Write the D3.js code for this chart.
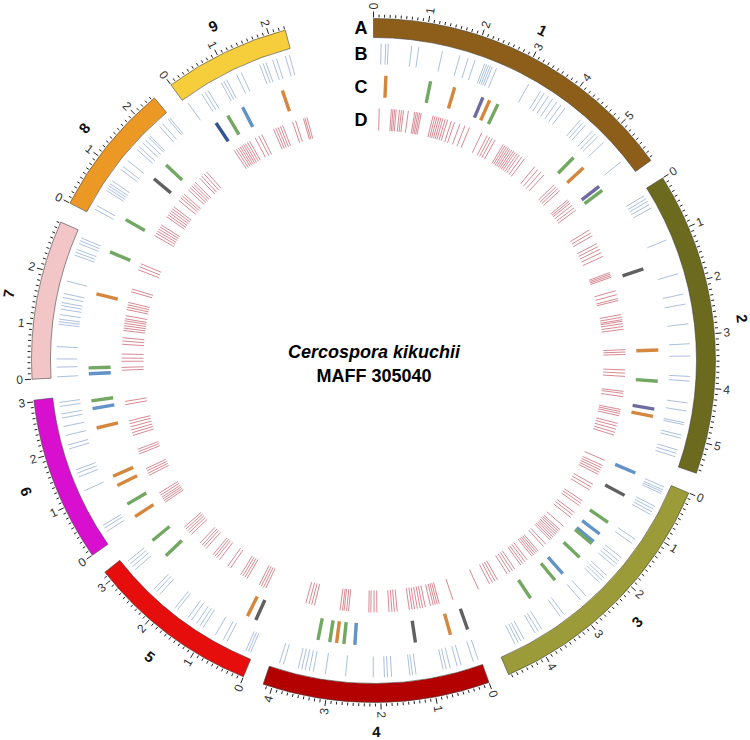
<!DOCTYPE html>
<html><head><meta charset="utf-8">
<script src="https://cdn.jsdelivr.net/npm/d3@7"></script>
<style>body{margin:0;background:#fff;} svg{display:block;font-family:"Liberation Sans",Arial,Helvetica,sans-serif;}</style>
</head><body><svg id="chart" width="750" height="740"></svg>
<script>
// ---------- data ----------
const chromosomes = ["1","2","3","4","5","6","7","8","9"];
const chrLengths = [5.86, 5.57, 4.75, 4.17, 3.18, 3.03, 2.92, 2.46, 2.31]; // Mb
const chrColors = ["#8c5e19","#6b6a1f","#9c9b39","#b30000","#e60d0d","#d90fcf","#f2c6c6","#ec9825","#f6cd3a"];
const trackLabels = ["A","B","C","D"];
const titleLines = ["Cercospora kikuchii","MAFF 305040"];

// track B : [chromosome, position Mb]
const featB = [
 [1,0.15],[1,0.24],[1,0.29],[1,0.75],[1,0.89],[1,1.36],[1,1.71],[1,1.88],[1,2.02],[1,2.22],[1,2.26],[1,2.30],[1,2.34],[1,2.38],[1,2.47],[1,3.17],[1,3.44],[1,3.52],[1,3.62],[1,3.72],[1,3.82],[1,3.92],[1,4.02],[1,4.40],[1,4.47],[1,4.54],[1,4.72],[1,4.80],[1,4.87],[1,5.03],[1,5.54],
 [2,0.10],[2,0.17],[2,0.23],[2,0.30],[2,0.38],[2,1.07],[2,1.77],[2,2.18],[2,2.38],[2,2.77],[2,3.16],[2,3.40],[2,3.80],[2,3.89],[2,4.32],[2,4.48],[2,4.71],[2,4.75],[2,4.96],[2,5.02],[2,5.26],[2,5.33],[2,5.40],
 [3,0.08],[3,0.14],[3,0.18],[3,0.22],[3,0.50],[3,0.56],[3,0.62],[3,0.68],[3,1.25],[3,1.35],[3,1.70],[3,1.78],[3,1.85],[3,1.92],[3,2.15],[3,2.22],[3,2.28],[3,2.35],[3,2.72],[3,2.85],[3,3.28],[3,3.36],[3,3.80],[3,3.88],[3,3.95],[3,4.20],[3,4.27],[3,4.33],[3,4.40],
 [4,0.05],[4,0.15],[4,0.40],[4,0.48],[4,0.62],[4,0.70],[4,0.76],[4,1.30],[4,1.37],[4,1.42],[4,1.78],[4,1.86],[4,1.92],[4,2.14],[4,2.68],[4,3.08],[4,3.32],[4,3.40],[4,3.48],[4,3.55],[4,3.62],[4,3.92],[4,4.00],
 [5,0.05],[5,0.10],[5,0.15],[5,0.56],[5,0.64],[5,0.82],[5,1.10],[5,1.17],[5,1.25],[5,1.37],[5,1.45],[5,1.71],[5,1.77],[5,2.17],[5,2.25],[5,2.32],[5,2.85],[5,2.93],[5,3.00],[5,3.07],
 [6,0.22],[6,0.30],[6,0.36],[6,1.13],[6,1.42],[6,1.50],[6,1.57],[6,2.00],[6,2.08],[6,2.27],[6,2.45],[6,2.62],[6,2.70],[6,2.85],[6,2.93],
 [7,0.02],[7,0.21],[7,0.37],[7,0.61],[7,1.05],[7,1.10],[7,1.15],[7,1.24],[7,1.35],[7,1.42],[7,1.48],[7,1.58],[7,1.66],[7,1.91],[7,2.44],[7,2.50],[7,2.56],[7,2.68],[7,2.74],[7,2.80],
 [8,0.12],[8,0.20],[8,0.55],[8,0.60],[8,0.65],[8,0.70],[8,0.77],[8,1.05],[8,1.12],[8,1.27],[8,1.55],[8,1.62],[8,1.72],[8,1.80],[8,1.88],[8,1.92],[8,2.18],[8,2.26],[8,2.40],[8,2.44],
 [9,0.06],[9,0.38],[9,0.45],[9,0.52],[9,0.82],[9,0.88],[9,0.94],[9,1.16],[9,1.26],[9,1.65],[9,1.72],[9,1.78],[9,1.92],[9,2.00],[9,2.18],[9,2.26]
];

// track C : [chromosome, position Mb, class]
const featC = [
 [1,0.27,"orange"],[1,1.25,"green"],[1,1.79,"orange"],[1,2.44,"slate"],[1,2.60,"orange"],[1,2.80,"green"],[1,4.82,"green"],[1,5.13,"orange"],[1,5.66,"slate"],[1,5.77,"green"],
 [2,1.46,"gray"],[2,3.26,"orange"],[2,3.94,"green"],[2,4.55,"slate"],[2,4.71,"orange"],
 [3,0.05,"blue"],[3,0.59,"gray"],[3,1.28,"green"],[3,1.59,"blue"],[3,1.80,"blue"],[3,1.86,"green"],[3,2.26,"green"],[3,2.77,"blue"],[3,2.99,"green"],[3,3.65,"green"],
 [4,0.05,"gray"],[4,0.44,"orange"],[4,1.22,"gray"],[4,2.54,"blue"],[4,2.78,"green"],[4,2.94,"orange"],[4,3.09,"green"],[4,3.35,"green"],
 [5,0.22,"gray"],[5,0.42,"orange"],[5,2.64,"green"],[5,3.08,"green"],
 [6,0.16,"orange"],[6,0.48,"green"],[6,0.94,"orange"],[6,1.16,"orange"],[6,2.27,"orange"],[6,2.70,"blue"],[6,2.87,"green"],
 [7,0.05,"blue"],[7,0.18,"green"],[7,1.80,"orange"],[7,2.76,"green"],
 [8,0.24,"green"],[8,1.32,"gray"],[8,1.72,"green"],
 [9,0.30,"navy"],[9,0.60,"green"],[9,0.97,"blue"],[9,1.91,"orange"]
];
const cClasses = ["orange","green","slate","gray","blue","navy"];
const cColors  = ["#d4883f","#72a862","#6e6c9e","#606060","#6193c8","#34558f"];

// track D : [chromosome, position Mb]
const featD = [
 [1,0.14],[1,0.44],[1,0.48],[1,0.52],[1,0.56],[1,0.64],[1,0.69],[1,0.74],[1,0.86],[1,1.02],[1,1.06],[1,1.10],[1,1.14],[1,1.18],[1,1.48],[1,1.53],[1,1.58],[1,1.63],[1,1.68],[1,1.73],[1,1.79],[1,1.85],[1,1.95],[1,2.03],[1,2.17],[1,2.30],[1,2.42],[1,2.75],[1,2.90],[1,2.97],[1,3.04],[1,3.12],[1,3.35],[1,3.40],[1,3.45],[1,3.50],[1,3.55],[1,3.60],[1,3.65],[1,3.70],[1,3.76],[1,3.82],[1,3.90],[1,3.98],[1,4.30],[1,4.40],[1,4.50],[1,4.60],[1,4.95],[1,5.02],[1,5.08],[1,5.15],[1,5.45],[1,5.50],[1,5.55],[1,5.62],[1,5.70],[1,5.77],
 [2,0.12],[2,0.20],[2,0.28],[2,0.50],[2,0.58],[2,0.66],[2,0.75],[2,0.85],[2,1.28],[2,1.32],[2,1.36],[2,1.40],[2,1.75],[2,1.85],[2,1.95],[2,2.00],[2,2.35],[2,2.42],[2,2.48],[2,2.52],[2,2.58],[2,2.65],[2,2.72],[2,3.22],[2,3.28],[2,3.34],[2,3.72],[2,3.80],[2,3.88],[2,4.25],[2,4.30],[2,4.38],[2,4.70],[2,4.75],[2,4.80],[2,4.86],[2,5.05],[2,5.12],[2,5.20],[2,5.28],[2,5.35],
 [3,0.06],[3,0.20],[3,0.26],[3,0.32],[3,0.38],[3,0.44],[3,0.72],[3,0.80],[3,0.88],[3,1.20],[3,1.27],[3,1.34],[3,1.55],[3,1.62],[3,1.70],[3,1.98],[3,2.10],[3,2.15],[3,2.20],[3,2.25],[3,2.30],[3,2.35],[3,2.40],[3,2.45],[3,2.60],[3,2.68],[3,2.85],[3,2.90],[3,2.95],[3,3.00],[3,3.05],[3,3.20],[3,3.27],[3,3.34],[3,3.40],[3,3.58],[3,3.65],[3,3.72],[3,3.80],[3,4.08],[3,4.15],[3,4.22],[3,4.30],[3,4.60],
 [4,0.15],[4,0.50],[4,0.55],[4,0.60],[4,0.65],[4,0.72],[4,0.85],[4,0.92],[4,0.98],[4,1.05],[4,1.12],[4,1.18],[4,1.25],[4,1.55],[4,1.62],[4,1.68],[4,1.75],[4,2.05],[4,2.12],[4,2.20],[4,2.25],[4,2.75],[4,2.80],[4,2.86],[4,2.90],[4,2.96],[4,3.60],[4,3.67],[4,3.74],[4,3.82],
 [5,0.32],[5,0.38],[5,0.44],[5,0.50],[5,0.84],[5,0.90],[5,0.96],[5,1.02],[5,1.32],[5,1.40],[5,1.66],[5,1.74],[5,1.80],[5,1.86],[5,2.09],[5,2.16],[5,2.22],[5,2.29],[5,2.59],[5,2.66],[5,2.72],[5,2.78],[5,2.84],
 [6,0.05],[6,0.10],[6,0.15],[6,0.20],[6,0.26],[6,0.32],[6,0.82],[6,0.88],[6,0.94],[6,1.00],[6,1.40],[6,1.46],[6,1.52],[6,1.88],[6,1.95],[6,2.02],[6,2.10],[6,2.18],[6,2.25],[6,2.66],[6,2.74],
 [7,0.10],[7,0.17],[7,0.32],[7,0.40],[7,0.50],[7,0.74],[7,0.82],[7,0.90],[7,1.08],[7,1.14],[7,1.20],[7,1.26],[7,1.32],[7,1.37],[7,1.45],[7,1.60],[7,1.66],[7,1.72],[7,1.78],[7,2.05],[7,2.12],[7,2.62],[7,2.70],[7,2.78],
 [8,0.25],[8,0.32],[8,0.38],[8,0.44],[8,0.50],[8,0.56],[8,0.80],[8,0.86],[8,0.92],[8,0.98],[8,1.04],[8,1.10],[8,1.30],[8,1.38],[8,1.44],[8,1.50],[8,1.65],[8,1.72],[8,1.78],[8,1.84],[8,1.90],[8,2.05],[8,2.12],[8,2.20],[8,2.28],
 [9,0.30],[9,0.36],[9,0.42],[9,0.47],[9,0.52],[9,0.57],[9,0.62],[9,0.68],[9,0.74],[9,0.90],[9,1.00],[9,1.08],[9,1.40],[9,1.46],[9,1.52],[9,1.58],[9,1.64],[9,1.90],[9,1.98],[9,2.18],[9,2.22],[9,2.27]
];

// ---------- layout ----------
const cx = 373.5, cy = 360.5;
const rBand = [323, 342], rB = [296, 317], rC = [263, 285], rD = [230, 252];
const degPerMb = 9.25, gapDeg = 3.53;
const rad = d => d * Math.PI / 180;

const svg = d3.select("#chart");
const g = svg.append("g").attr("transform", `translate(${cx},${cy})`);

let acc = 0;
const scales = chrLengths.map(len => {
  const a0 = acc, a1 = acc + len * degPerMb;
  acc = a1 + gapDeg;
  return d3.scaleLinear().domain([0, len]).range([rad(a0), rad(a1)]);
});

const radial = d3.lineRadial().angle(d => d[0]).radius(d => d[1]);
const pt = (a, r) => [r * Math.sin(a), -r * Math.cos(a)];

// bands
const arc = d3.arc().innerRadius(rBand[0]).outerRadius(rBand[1]);
g.selectAll("path.band").data(chromosomes).join("path")
  .attr("class", "band")
  .attr("d", (c, i) => arc({startAngle: scales[i].range()[0], endAngle: scales[i].range()[1]}))
  .attr("fill", (c, i) => chrColors[i])
  .attr("stroke", "#444").attr("stroke-width", 0.6);

// ticks & labels
chromosomes.forEach((c, i) => {
  const s = scales[i], len = chrLengths[i];
  const ticks = d3.range(0, Math.floor(len * 10 + 1e-6) + 1).map(t => t / 10);
  g.append("g").selectAll("path").data(ticks).join("path")
    .attr("d", t => radial([[s(t), rBand[1] + 1], [s(t), rBand[1] + (Math.abs(t - Math.round(t)) < 1e-6 ? 7 : 4)]]))
    .attr("stroke", "#222").attr("stroke-width", 1);
  const majors = d3.range(0, Math.floor(len + 1e-6) + 1);
  g.append("g").selectAll("text").data(majors).join("text")
    .attr("transform", t => {
      const a = s(t), deg = a * 180 / Math.PI, [x, y] = pt(a, 351);
      const rot = deg < 180 ? deg - 90 : deg + 90;
      return `translate(${x},${y}) rotate(${rot})`;
    })
    .attr("text-anchor", t => (s(t) * 180 / Math.PI) < 180 ? "start" : "end")
    .attr("dominant-baseline", "central")
    .attr("font-size", 12).attr("fill", "#333")
    .text(t => t);
  const am = (s.range()[0] + s.range()[1]) / 2, dm = am * 180 / Math.PI, [lx, ly] = pt(am, 371);
  const rotc = (dm <= 90 || dm >= 270) ? dm : dm - 180;
  g.append("text").attr("transform", `translate(${lx},${ly}) rotate(${rotc})`)
    .attr("text-anchor", "middle").attr("dominant-baseline", "central")
    .attr("font-size", 15).attr("font-weight", "bold").attr("fill", "#111").text(c);
});

// track B
g.append("g").selectAll("path").data(featB).join("path")
  .attr("d", d => { const a = scales[d[0] - 1](d[1]); return radial([[a, rB[0]], [a, rB[1]]]); })
  .attr("stroke", "#6f93c8").attr("stroke-width", 0.9).attr("stroke-opacity", 0.65).attr("fill", "none");

// track C
const cScale = d3.scaleOrdinal().domain(cClasses).range(cColors);
g.append("g").selectAll("path").data(featC).join("path")
  .attr("d", d => { const a = scales[d[0] - 1](d[1]); return radial([[a, rC[0]], [a, rC[1]]]); })
  .attr("stroke", d => cScale(d[2])).attr("stroke-width", 3.4).attr("fill", "none");

// track D
g.append("g").selectAll("path").data(featD).join("path")
  .attr("d", d => { const a = scales[d[0] - 1](d[1]); return radial([[a, rD[0]], [a, rD[1]]]); })
  .attr("stroke", "#b8283a").attr("stroke-width", 0.85).attr("stroke-opacity", 0.65).attr("fill", "none");

// track labels
const mids = [rBand, rB, rC, rD].map(r => (r[0] + r[1]) / 2);
g.append("g").selectAll("text").data(trackLabels).join("text")
  .attr("x", -6).attr("y", (d, i) => -mids[i])
  .attr("text-anchor", "end").attr("dominant-baseline", "central")
  .attr("font-size", 18).attr("font-weight", "bold").attr("fill", "#000").text(d => d);

// title
svg.append("text").attr("x", 374).attr("y", 358).attr("text-anchor", "middle")
  .attr("font-size", 18).attr("font-weight", "bold").attr("font-style", "italic").text(titleLines[0]);
svg.append("text").attr("x", 374).attr("y", 382).attr("text-anchor", "middle")
  .attr("font-size", 18).attr("font-weight", "bold").text(titleLines[1]);
</script></body></html>
